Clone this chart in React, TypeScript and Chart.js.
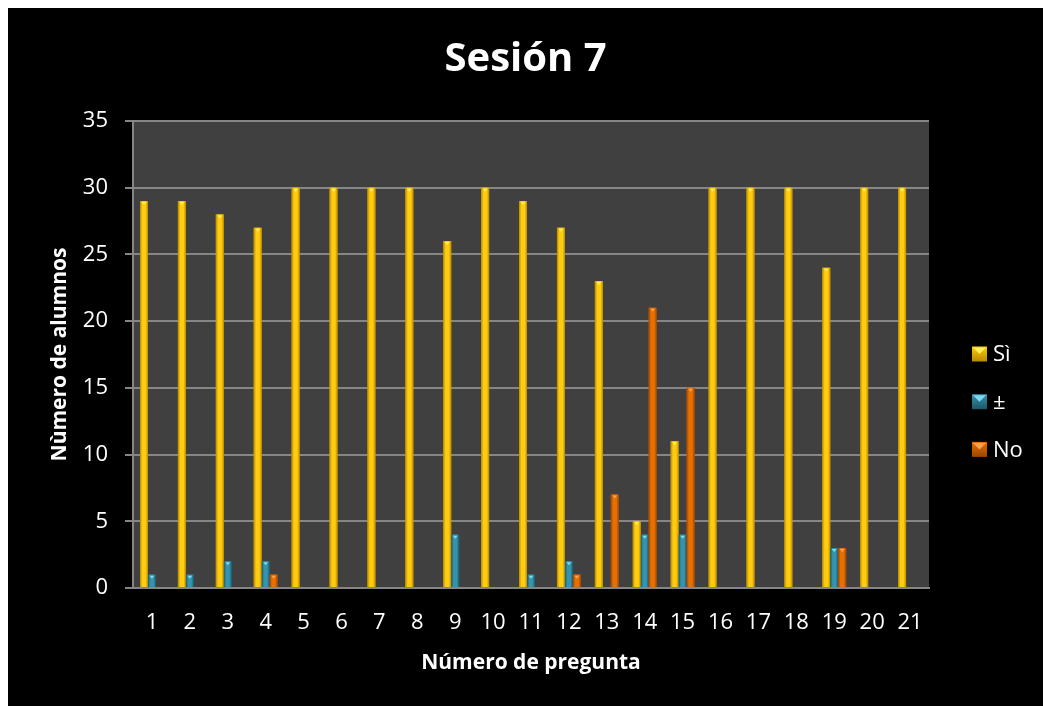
import React, { useEffect, useRef } from "react";
import { Chart, registerables } from "chart.js";

Chart.register(...registerables);

const titleText = "Sesión 7";
const xAxisTitle = "Número de pregunta";
const yAxisTitle = "Nùmero de alumnos";
const categories = ["1", "2", "3", "4", "5", "6", "7", "8", "9", "10", "11", "12", "13", "14", "15", "16", "17", "18", "19", "20", "21"];
const seriesLabels = ["Sì", "±", "No"];
const siValues = [29, 29, 28, 27, 30, 30, 30, 30, 26, 30, 29, 27, 23, 5, 11, 30, 30, 30, 24, 30, 30];
const pmValues = [1, 1, 2, 2, 0, 0, 0, 0, 4, 0, 1, 2, 0, 4, 4, 0, 0, 0, 3, 0, 0];
const noValues = [0, 0, 0, 1, 0, 0, 0, 0, 0, 0, 0, 1, 7, 21, 15, 0, 0, 0, 3, 0, 0];
const yMax = 35;
const yStep = 5;

const palettes = [
  { base: "#f0b400", dark: "#b98a00", light: "#ffcc10", cap: "#fff060" },
  { base: "#2b7f96", dark: "#1c5868", light: "#3593ad", cap: "#7fd8ee" },
  { base: "#d86300", dark: "#9c4500", light: "#e87000", cap: "#ffa050" },
];

const FONT = "'Open Sans', 'DejaVu Sans', sans-serif";

const plotBg = {
  id: "plotBg",
  beforeDraw(chart: any) {
    const { ctx, chartArea } = chart;
    ctx.save();
    ctx.fillStyle = "#404040";
    ctx.fillRect(chartArea.left, chartArea.top, chartArea.right - chartArea.left, chartArea.bottom - chartArea.top);
    ctx.restore();
  },
};

const barShade = {
  id: "barShade",
  afterDatasetsDraw(chart: any) {
    const ctx = chart.ctx;
    ctx.save();
    chart.data.datasets.forEach((_ds: any, di: number) => {
      const meta = chart.getDatasetMeta(di);
      const pal = palettes[di];
      meta.data.forEach((bar: any) => {
        const { x, y, base, width } = bar.getProps(["x", "y", "base", "width"], true);
        const left = x - width / 2;
        const top = Math.min(y, base);
        const h = Math.abs(base - y);
        if (h < 0.5) return;
        const g = ctx.createLinearGradient(left, 0, left + width, 0);
        g.addColorStop(0, pal.dark);
        g.addColorStop(0.3, pal.light);
        g.addColorStop(0.7, pal.light);
        g.addColorStop(1, pal.dark);
        ctx.fillStyle = g;
        ctx.fillRect(left, top, width, h);
        ctx.fillStyle = pal.cap;
        ctx.beginPath();
        ctx.moveTo(left + 1.5, top + 1);
        ctx.lineTo(left + width - 1.5, top + 1);
        ctx.lineTo(x, top + 4);
        ctx.closePath();
        ctx.fill();
      });
    });
    ctx.restore();
  },
};

const sideLegend = {
  id: "sideLegend",
  afterDraw(chart: any) {
    const ctx = chart.ctx;
    ctx.save();
    const boxX = 964;
    const textX = 985;
    const startY = 346;
    const gap = 47.7;
    chart.data.datasets.forEach((ds: any, i: number) => {
      const cy = startY + i * gap;
      const pal = palettes[i];
      const g = ctx.createLinearGradient(boxX, cy - 7.5, boxX, cy + 7.5);
      g.addColorStop(0, pal.light);
      g.addColorStop(1, pal.dark);
      ctx.fillStyle = g;
      ctx.fillRect(boxX, cy - 7.5, 15, 15);
      ctx.fillStyle = pal.cap;
      ctx.beginPath();
      ctx.moveTo(boxX + 1, cy - 6.5);
      ctx.lineTo(boxX + 14, cy - 6.5);
      ctx.lineTo(boxX + 7.5, cy);
      ctx.closePath();
      ctx.fill();
      ctx.fillStyle = "#ffffff";
      ctx.font = `22px ${FONT}`;
      ctx.textBaseline = "middle";
      ctx.textAlign = "left";
      ctx.fillText(ds.label, textX, cy + 1);
    });
    ctx.restore();
  },
};

export default function App() {
  const canvasRef = useRef<HTMLCanvasElement | null>(null);

  useEffect(() => {
    if (!canvasRef.current) return;
    const chart = new Chart(canvasRef.current, {
      type: "bar",
      data: {
        labels: categories,
        datasets: [
          { label: seriesLabels[0], data: siValues, backgroundColor: palettes[0].base, yAxisID: "y" },
          { label: seriesLabels[1], data: pmValues, backgroundColor: palettes[1].base, yAxisID: "y" },
          { label: seriesLabels[2], data: noValues, backgroundColor: palettes[2].base, yAxisID: "y" },
        ],
      },
      options: {
        responsive: false,
        animation: false,
        devicePixelRatio: 1,
        datasets: { bar: { categoryPercentage: 0.63, barPercentage: 1 } },
        layout: { padding: { left: 0, right: 0, top: 0, bottom: 0 } },
        plugins: {
          legend: { display: false },
          tooltip: { enabled: false },
          title: {
            display: true,
            text: titleText,
            color: "#ffffff",
            font: { family: FONT, size: 40, weight: "bold" },
            padding: { top: 28, bottom: 37 },
          },
        },
        scales: {
          x: {
            grid: { display: false, drawTicks: false },
            border: { display: true, color: "#868686", width: 2 },
            ticks: { color: "#ffffff", font: { family: FONT, size: 22 }, padding: 22, maxRotation: 0, autoSkip: false },
            title: {
              display: true,
              text: xAxisTitle,
              color: "#ffffff",
              font: { family: FONT, size: 21, weight: "bold" },
              padding: { top: 0, bottom: 30 },
            },
            afterFit: (scale: any) => {
              scale.height = 118;
            },
          },
          y: {
            position: "left",
            min: 0,
            max: yMax,
            ticks: { stepSize: yStep, color: "#ffffff", font: { family: FONT, size: 22 }, padding: 17 },
            grid: { color: "#868686", lineWidth: 2, tickLength: 8, tickColor: "#868686" },
            border: { display: true, color: "#868686", width: 2 },
            title: {
              display: true,
              text: yAxisTitle,
              color: "#ffffff",
              font: { family: FONT, size: 21, weight: "bold" },
              padding: { top: 39, bottom: 0 },
            },
            afterFit: (scale: any) => {
              scale.width = 125;
            },
          },
          legendSpace: {
            position: "right",
            display: true,
            min: 0,
            max: yMax,
            grid: { display: false, drawTicks: false },
            border: { display: false },
            ticks: { display: false },
            afterFit: (scale: any) => {
              scale.width = 114;
            },
          },
        },
      },
      plugins: [plotBg, barShade, sideLegend],
    });
    return () => chart.destroy();
  }, []);

  return (
    <div style={{ position: "fixed", left: 8, top: 8, width: 1035, height: 698, background: "#000000" }}>
      <canvas ref={canvasRef} width={1035} height={698} style={{ display: "block" }} />
    </div>
  );
}
